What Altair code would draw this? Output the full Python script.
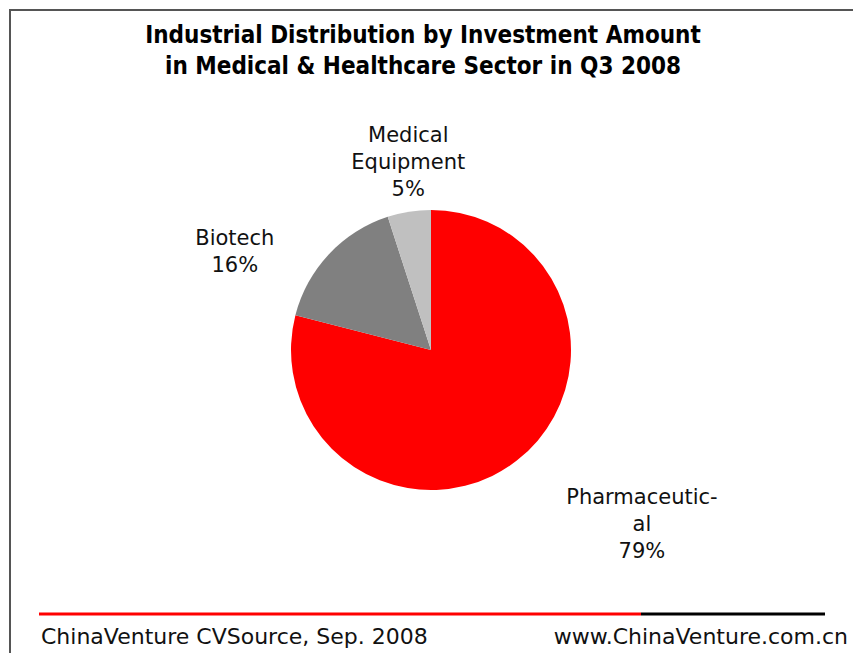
import altair as alt
import pandas as pd

categories = ["Pharmaceutical", "Biotech", "Medical Equipment"]
label_text = ["Pharmaceutic-\nal", "Biotech", "Medical\nEquipment"]
shares = [79, 16, 5]
colors = ["#FF0000", "#808080", "#C0C0C0"]

title_lines = ["Industrial Distribution by Investment Amount",
               "in Medical & Healthcare Sector in Q3 2008"]
source_note = "ChinaVenture CVSource, Sep. 2008"
site_note = "www.ChinaVenture.com.cn"

df = pd.DataFrame({
    "category": categories,
    "value": shares,
    "order": list(range(len(categories))),
    "label": [f"{t}\n{v}%" for t, v in zip(label_text, shares)],
})

CX, CY = 422, 341
FONT = "DejaVu Sans"
TXT = "#111111"

pie = alt.Chart(df).mark_arc(outerRadius=140, stroke=None).encode(
    theta=alt.Theta("value:Q", stack=True),
    order=alt.Order("order:Q"),
    color=alt.Color("category:N", scale=alt.Scale(domain=categories, range=colors), legend=None),
    x=alt.value(CX), y=alt.value(CY),
)

label_base = alt.Chart(df).transform_window(
    cum="sum(value)", sort=[alt.SortField("order")]
).transform_joinaggregate(
    total="sum(value)"
).transform_calculate(
    mid_theta="2 * PI * (datum.cum - datum.value / 2) / datum.total"
)

def label_layer(cat, radius, dx, dy):
    return label_base.transform_filter(alt.datum.category == cat).mark_text(
        radius=radius, dx=dx, dy=dy, font=FONT, fontSize=21, lineBreak="\n",
        lineHeight=27, align="center", baseline="middle", color=TXT,
    ).encode(
        theta=alt.Theta("mid_theta:Q", scale=None),
        x=alt.value(CX), y=alt.value(CY), text="label:N",
    )

labels = [
    label_layer("Pharmaceutical", 230, 70, -34),
    label_layer("Biotech", 180, -65, 12),
    label_layer("Medical Equipment", 190, 7, -26),
]

one = alt.Data(values=[{}])

title = alt.Chart(one).mark_text(
    font="DejaVu Sans Condensed", fontWeight="bold", fontSize=24, lineBreak="\n",
    lineHeight=31, align="center", baseline="middle", color="#000000",
).encode(x=alt.value(414), y=alt.value(27), text=alt.value("\n".join(title_lines)))

border_top = alt.Chart(one).mark_rule(color="#555555", strokeWidth=2).encode(
    x=alt.value(0), x2=alt.value(845), y=alt.value(1))
border_left = alt.Chart(one).mark_rule(color="#555555", strokeWidth=2).encode(
    x=alt.value(1), y=alt.value(0), y2=alt.value(645))

red_line = alt.Chart(one).mark_rule(color="#FF0000", strokeWidth=3).encode(
    x=alt.value(30), x2=alt.value(632), y=alt.value(605))
black_line = alt.Chart(one).mark_rule(color="#000000", strokeWidth=3).encode(
    x=alt.value(632), x2=alt.value(816), y=alt.value(605))

foot_left = alt.Chart(one).mark_text(
    font=FONT, fontSize=22, align="left", baseline="middle", color=TXT
).encode(x=alt.value(32), y=alt.value(628), text=alt.value(source_note))
foot_right = alt.Chart(one).mark_text(
    font=FONT, fontSize=22, align="right", baseline="middle", color=TXT
).encode(x=alt.value(839), y=alt.value(628), text=alt.value(site_note))

chart = alt.layer(
    pie, *labels, title, border_top, border_left, red_line, black_line, foot_left, foot_right
).properties(
    width=845, height=645,
    autosize=alt.AutoSizeParams(type="fit", contains="padding"),
    padding=0,
).configure_view(stroke=None)

chart.save("out.html", embed_options={"renderer": "svg", "actions": False})
